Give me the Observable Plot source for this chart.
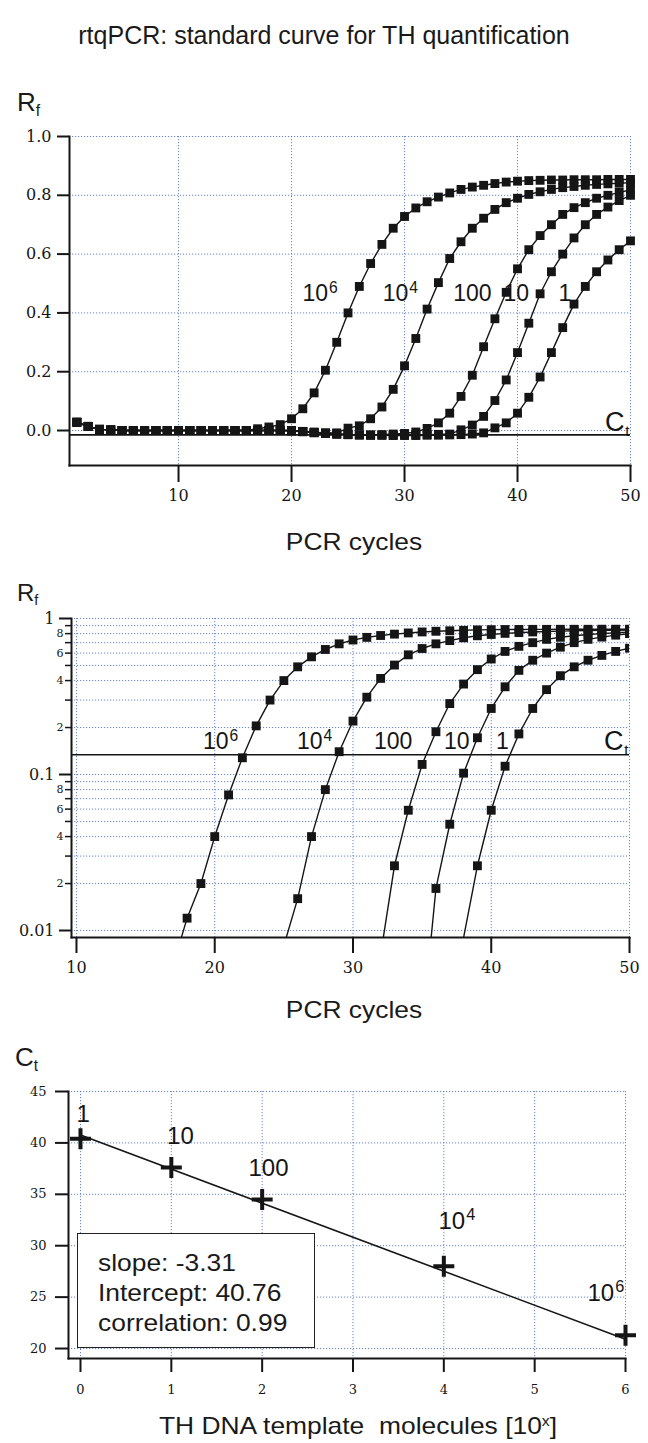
<!DOCTYPE html>
<html>
<head>
<meta charset="utf-8">
<script src="https://cdn.jsdelivr.net/npm/d3@7"></script>
<script src="https://cdn.jsdelivr.net/npm/@observablehq/plot@0.6"></script>
<style>
html,body{margin:0;padding:0;background:#fff;}
#page{position:relative;width:648px;height:1443px;overflow:hidden;font-family:"Liberation Sans",Arial,Helvetica,sans-serif;color:#1a1a1a;}
.t{position:absolute;white-space:pre;line-height:1;}
.c{text-align:center;}
.st{display:inline-block;transform:scaleX(1.1);}
.panel{position:absolute;left:0;}
.panel svg{display:block;}
.sub{font-size:0.6em;position:relative;top:0.3em;}
.sup{font-size:0.6em;position:relative;top:-0.55em;}
#box{position:absolute;left:77px;top:1233px;width:236px;height:113px;border:1.5px solid #222;background:#fff;font-size:24px;}
#box div{position:absolute;left:20px;transform:scaleX(1.1);transform-origin:left center;white-space:pre;line-height:1;}
</style>
</head>
<body>
<div id="page">
  <div class="t c" style="left:0;width:648px;top:23px;font-size:25px;">rtqPCR: standard curve for TH quantification</div>

  <div class="t" style="left:17px;top:89px;font-size:26px;">R<span class="sub">f</span></div>
  <div class="panel" id="p1" style="top:120px"></div>
  <div class="t c" style="left:154px;width:400px;top:530px;font-size:24px;"><span class="st">PCR cycles</span></div>

  <div class="t" style="left:17px;top:581px;font-size:24px;">R<span class="sub">f</span></div>
  <div class="panel" id="p2" style="top:600px"></div>
  <div class="t c" style="left:154px;width:400px;top:998px;font-size:24px;"><span class="st">PCR cycles</span></div>

  <div class="t" style="left:15px;top:1044px;font-size:26px;">C<span class="sub">t</span></div>
  <div class="panel" id="p3" style="top:1075px"></div>
  <div class="t c" style="left:158px;width:400px;top:1414px;font-size:24px;"><span class="st">TH DNA template  molecules [10<span class="sup">x</span>]</span></div>

  <div id="box">
    <div id="b1" style="top:17px"></div>
    <div id="b2" style="top:47px"></div>
    <div id="b3" style="top:77px"></div>
  </div>
</div>
<script>
// ---------------- data ----------------
const cycles = [1,2,3,4,5,6,7,8,9,10,11,12,13,14,15,16,17,18,19,20,21,22,23,24,25,
                26,27,28,29,30,31,32,33,34,35,36,37,38,39,40,41,42,43,44,45,46,47,48,49,50];

// Rf (normalised fluorescence) per cycle, one array per template dilution
const rf_1e6 = [0.028,0.014,0.004,0.002,0,0,0,0,0,0, 0,0,0,0,0,0,0.006,0.012,0.02,0.04,
                0.074,0.128,0.205,0.30,0.40,0.49,0.568,0.633,0.688,0.728, 0.757,0.778,0.794,0.808,0.82,0.828,0.834,0.84,0.845,0.848,
                0.85,0.851,0.852,0.852,0.853,0.853,0.853,0.854,0.854,0.854];
const rf_1e4 = [0.028,0.014,0.004,0.002,0,0,0,0,0,0, 0,0,0,0,0,0,0,0,0,-0.002,
                -0.004,-0.006,-0.008,-0.008,0.008,0.016,0.04,0.08,0.14,0.22, 0.313,0.413,0.503,0.585,0.642,0.688,0.722,0.752,0.775,0.79,
                0.803,0.812,0.82,0.826,0.83,0.834,0.837,0.839,0.841,0.843];
const rf_100 = [0.028,0.014,0.004,0.002,0,0,0,0,0,0, 0,0,0,0,0,0,0,0,0,0,
                -0.004,-0.008,-0.01,-0.012,-0.014,-0.015,-0.015,-0.014,-0.012,-0.01, -0.005,0.007,0.026,0.059,0.116,0.188,0.285,0.38,0.47,0.55,
                0.615,0.663,0.70,0.735,0.758,0.775,0.79,0.80,0.81,0.818];
const rf_10  = [0.028,0.014,0.004,0.002,0,0,0,0,0,0, 0,0,0,0,0,0,0,0,0,0,
                -0.003,-0.006,-0.009,-0.012,-0.014,-0.015,-0.016,-0.016,-0.016,-0.015, -0.015,-0.014,-0.013,-0.012,0.0023,0.0186,0.048,0.102,0.172,0.265,
                0.365,0.465,0.54,0.60,0.655,0.70,0.735,0.76,0.782,0.80];
const rf_1   = [0.028,0.014,0.004,0.002,0,0,0,0,0,0, 0,0,0,0,0,0,0,0,0,0,
                -0.003,-0.006,-0.009,-0.012,-0.014,-0.015,-0.016,-0.016,-0.017,-0.017, -0.017,-0.016,-0.016,-0.015,-0.014,-0.012,-0.008,0.009,0.026,0.059,
                0.113,0.182,0.265,0.35,0.43,0.49,0.54,0.58,0.615,0.645];

const dilutionLabels = ["10⁶","10⁴","100","10","1"];
const linLabelCycle = [22.5,29.6,36.0,39.9,44.2];
const linLabelRf    = [0.465,0.465,0.465,0.465,0.465];
const logLabelCycle = [20.4,27.2,32.9,37.5,40.8];
const logLabelRf    = [0.162,0.162,0.162,0.162,0.162];

const ctThresholdLinear = -0.015;
const ctThresholdLog = 0.134;

// ticks
const p1XTicks = [10,20,30,40,50];
const p1YTicks = [0,0.2,0.4,0.6,0.8,1.0];
const p2XTicks = [10,20,30,40,50];
const p2YMajor = [0.01,0.1,1];
const p2YMinor = [0.02,0.03,0.04,0.05,0.06,0.07,0.08,0.09,0.2,0.3,0.4,0.5,0.6,0.7,0.8,0.9];
const p2YMinorLabels = ["2","","4","","6","","8","","2","","4","","6","","8",""];
const p3XTicks = [0,1,2,3,4,5,6];
const p3YTicks = [20,25,30,35,40,45];

// standard curve
const stdExponent = [0,1,2,4,6];
const stdCt       = [40.4,37.6,34.5,28.0,21.3];
const stdLabels   = ["1","10","100","10⁴","10⁶"];
const stdLabelX   = [0.03,1.1,2.07,4.14,5.78];
const stdLabelY   = [42.8,40.6,37.5,32.4,25.4];
const fitSlope = -3.31, fitIntercept = 40.76, fitCorrelation = 0.99;

// ---------------- build ----------------
const supDigits = {"⁰":"0","¹":"1","²":"2","³":"3","⁴":"4","⁵":"5","⁶":"6","⁷":"7","⁸":"8","⁹":"9"};
function splitLabel(t) {
  const chars = [...t];
  const base = chars.filter(c => !(c in supDigits)).join("");
  const exp = chars.filter(c => c in supDigits).map(c => supDigits[c]).join("");
  return {base, exp};
}

const seriesVals = [rf_1e6, rf_1e4, rf_100, rf_10, rf_1];
const amp = seriesVals.flatMap((vals, i) => vals.map((v, j) => ({cycle: cycles[j], rf: v, dil: dilutionLabels[i]})));
const mkLabels = (texts, xs, ys) => texts.map((t, i) => ({...splitLabel(t), x: xs[i], y: ys[i]}));
const linLabels = mkLabels(dilutionLabels, linLabelCycle, linLabelRf);
const logLabels = mkLabels(dilutionLabels, logLabelCycle, logLabelRf);

const INK = "#151515";
const SANS = "Liberation Sans, Arial, sans-serif";
const SERIF = "DejaVu Serif, serif";
const grid = {stroke: "#4f72c4", strokeOpacity: 0.85, strokeDasharray: "1.2,1.8", strokeWidth: 1};

function labelMarks(labels, size) {
  const plain = labels.filter(d => !d.exp);
  const sup = labels.filter(d => d.exp);
  const half = size * 0.36;
  return [
    Plot.text(plain, {x: "x", y: "y", text: "base", fontSize: size, fill: INK, fontFamily: SANS}),
    Plot.text(sup, {x: "x", y: "y", text: "base", textAnchor: "end", dx: half, fontSize: size, fill: INK, fontFamily: SANS}),
    Plot.text(sup, {x: "x", y: "y", text: "exp", textAnchor: "start", dx: half + 1, dy: -size * 0.27, fontSize: size * 0.68, fill: INK, fontFamily: SANS})
  ];
}

function ctLabel(y) {
  return [
    Plot.text([y], {y: d => d, frameAnchor: "right", text: () => "C", dx: -6, dy: -13, textAnchor: "end", fontSize: 27, fill: INK, fontFamily: SANS}),
    Plot.text([y], {y: d => d, frameAnchor: "right", text: () => "t", dx: -1, dy: -4, textAnchor: "end", fontSize: 15, fill: INK, fontFamily: SANS})
  ];
}

const p1 = Plot.plot({
  width: 648, height: 390,
  marginLeft: 69, marginRight: 18, marginTop: 16, marginBottom: 45,
  x: {domain: [0.35, 50]},
  y: {domain: [-0.119, 1.0]},
  style: {background: "transparent", overflow: "visible"},
  marks: [
    Plot.gridX(p1XTicks, grid),
    Plot.gridY(p1YTicks, grid),
    Plot.ruleY([ctThresholdLinear], {stroke: INK, strokeWidth: 1.6}),
    Plot.line(amp, {x: "cycle", y: "rf", z: "dil", stroke: INK, strokeWidth: 1.4}),
    Plot.dot(amp, {x: "cycle", y: "rf", symbol: "square", r: 5, fill: INK}),
    ...labelMarks(linLabels, 23),
    ...ctLabel(ctThresholdLinear),
    Plot.frame({anchor: "left", stroke: INK, strokeWidth: 2}),
    Plot.frame({anchor: "bottom", stroke: INK, strokeWidth: 2}),
    Plot.axisY(p1YTicks, {tickSize: 12, tickPadding: 6, tickFormat: d3.format(".1f"), fontFamily: SERIF, fontSize: 16, stroke: INK, strokeWidth: 2, fill: INK, label: null}),
    Plot.axisX(p1XTicks, {tickSize: 17, tickPadding: 7, fontFamily: SERIF, fontSize: 16, stroke: INK, strokeWidth: 2, fill: INK, label: null})
  ]
});
document.getElementById("p1").append(p1);

const minorLab = p2YMinor.map((v, i) => ({v, t: p2YMinorLabels[i]})).filter(d => d.t);

const p2 = Plot.plot({
  width: 648, height: 385,
  marginLeft: 71, marginRight: 19, marginTop: 18, marginBottom: 48,
  x: {domain: [9.64, 50]},
  y: {type: "log", domain: [0.00902, 1]},
  style: {background: "transparent", overflow: "visible"},
  marks: [
    Plot.gridX(p2XTicks, grid),
    Plot.gridY([...p2YMajor, ...p2YMinor], grid),
    Plot.ruleY([ctThresholdLog], {stroke: INK, strokeWidth: 1.6}),
    Plot.line(amp, {x: "cycle", y: "rf", z: "dil", stroke: INK, strokeWidth: 1.4, clip: true}),
    Plot.dot(amp.filter(d => d.rf >= 0.01), {x: "cycle", y: "rf", symbol: "square", r: 5, fill: INK, clip: true}),
    ...labelMarks(logLabels, 23),
    ...ctLabel(ctThresholdLog),
    Plot.frame({anchor: "left", stroke: INK, strokeWidth: 2}),
    Plot.frame({anchor: "bottom", stroke: INK, strokeWidth: 2}),
    Plot.axisY(p2YMajor, {tickSize: 12, tickPadding: 5, tickFormat: d => String(d), fontFamily: SERIF, fontSize: 16, stroke: INK, strokeWidth: 2, fill: INK, label: null}),
    Plot.axisY(p2YMinor, {tickSize: 6, tickFormat: () => "", stroke: INK, strokeWidth: 1.5, label: null}),
    Plot.text(minorLab, {y: "v", text: "t", frameAnchor: "left", textAnchor: "end", dx: -8, fontFamily: SERIF, fontSize: 11, fill: INK}),
    Plot.axisX(p2XTicks, {tickSize: 16, tickPadding: 8, fontFamily: SERIF, fontSize: 16, stroke: INK, strokeWidth: 2, fill: INK, label: null})
  ]
});
document.getElementById("p2").append(p2);

const std = stdExponent.map((e, i) => ({e, ct: stdCt[i]}));
const stdLab = mkLabels(stdLabels, stdLabelX, stdLabelY);
const fitLine = d3.extent(stdExponent).map(e => ({e, ct: fitIntercept + fitSlope * e}));
const plusSymbol = {
  draw(ctx, size) {
    const h = Math.sqrt(size / Math.PI);
    ctx.moveTo(-h, 0); ctx.lineTo(h, 0);
    ctx.moveTo(0, -h); ctx.lineTo(0, h);
  }
};

const p3 = Plot.plot({
  width: 648, height: 335,
  marginLeft: 68, marginRight: 23, marginTop: 16, marginBottom: 52,
  x: {domain: [-0.132, 6]},
  y: {domain: [19.03, 45]},
  style: {background: "transparent", overflow: "visible"},
  marks: [
    Plot.gridX(p3XTicks, grid),
    Plot.gridY(p3YTicks, grid),
    Plot.line(fitLine, {x: "e", y: "ct", stroke: INK, strokeWidth: 1.6}),
    Plot.dot(std, {x: "e", y: "ct", symbol: plusSymbol, r: 10.5, stroke: INK, strokeWidth: 4, fill: "none"}),
    ...labelMarks(stdLab, 24),
    Plot.frame({anchor: "left", stroke: INK, strokeWidth: 2}),
    Plot.frame({anchor: "bottom", stroke: INK, strokeWidth: 2}),
    Plot.axisY(p3YTicks, {tickSize: 13, tickPadding: 9, fontFamily: SERIF, fontSize: 13, stroke: INK, strokeWidth: 2, fill: INK, label: null}),
    Plot.axisX(p3XTicks, {tickSize: 14, tickPadding: 12, fontFamily: SERIF, fontSize: 13, stroke: INK, strokeWidth: 2, fill: INK, label: null})
  ]
});
document.getElementById("p3").append(p3);

document.getElementById("b1").textContent = `slope: ${fitSlope.toFixed(2)}`;
document.getElementById("b2").textContent = `Intercept: ${fitIntercept.toFixed(2)}`;
document.getElementById("b3").textContent = `correlation: ${fitCorrelation.toFixed(2)}`;
</script>
</body>
</html>
